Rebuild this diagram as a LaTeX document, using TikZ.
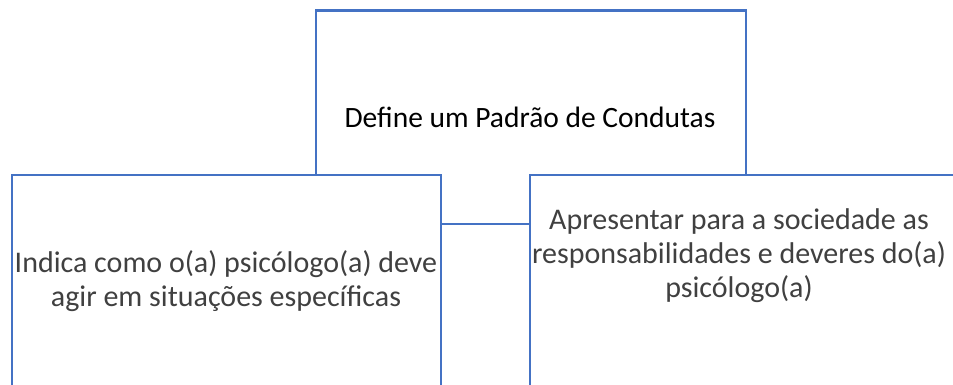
\documentclass[tikz,border=0pt]{standalone}
\usepackage{fontspec}
\setmainfont{Carlito}
\definecolor{boxblue}{HTML}{4472C4}
\definecolor{lighttext}{HTML}{404040}
\tikzset{
  box/.style={draw=boxblue, line width=2.2pt, fill=white, rectangle, inner sep=0pt},
  heavytext/.style={font=\fontsize{29.5}{35}\selectfont, text=black, align=center, inner sep=0pt},
  lighttxt/.style={font=\fontsize{30}{34}\selectfont, text=lighttext, align=center, inner sep=0pt},
  link/.style={draw=boxblue, line width=2.2pt}
}
\begin{document}
\begin{tikzpicture}[x=1pt,y=-1pt]
\useasboundingbox (0,0) rectangle (953,385);
\begin{scope}
\clip (0,0) rectangle (953,385);
\node[box, anchor=north west, minimum width=430pt, minimum height=400pt] (topbox) at (315,9.5) {};
\node[heavytext] (toptext) at (530,117) {Define um Padrão de Condutas};
\node[box, anchor=north west, minimum width=429pt, minimum height=230pt] (leftbox) at (11,174) {};
\node[box, anchor=north west, minimum width=440pt, minimum height=230pt] (rightbox) at (529,174) {};
\node[lighttxt] (lefttext) at (226,281) {Indica como o(a) psicólogo(a) deve\\agir em situações específicas};
\node[lighttxt] (righttext) at (739,256) {Apresentar para a sociedade as\\responsabilidades e deveres do(a)\\psicólogo(a)};
\coordinate (lkA) at (leftbox.north east |- 0,224);
\coordinate (lkB) at (rightbox.north west |- 0,224);
\draw[link] (lkA) -- (lkB);
\end{scope}
\end{tikzpicture}
\end{document}
